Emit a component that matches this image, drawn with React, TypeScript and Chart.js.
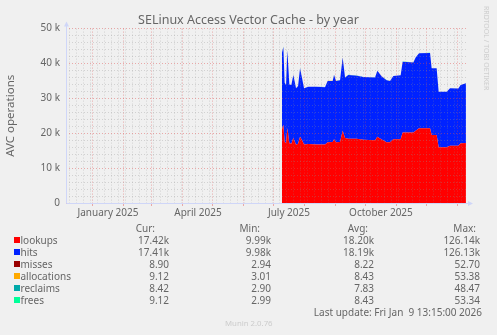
import React, { useEffect, useRef } from "react";
import { Chart, registerables } from "chart.js";

Chart.register(...registerables);

const FONT = "'Noto Sans', 'Open Sans', sans-serif";
const TEXT = "#666666";

// x values: days since 1 January 2025
const X_MIN = -26.45; // 5 Dec 2024 13:15
const X_MAX = 373.55; // 9 Jan 2026 13:15

const dayIndex = [
  189.5, 190.9, 192.2, 193.6, 194.9, 196.9, 198.9, 200.9, 203.6, 205.6,
  207.6, 209.6, 211.6, 215.9, 224.2, 232.6, 235.2, 240.2, 241.6, 243.6,
  247.6, 250.2, 252.6, 255.9, 264.2, 270.9, 282.6, 284.9, 289.2, 294.2,
  297.6, 300.9, 308.2, 310.2, 320.9, 323.2, 326.6, 337.6, 339.2, 344.2,
  346.2, 354.2, 357.6, 365.9, 368.2, 373.5,
];

// thousands of operations
const lookupsK = [
  21.0, 22.4, 17.5, 17.2, 21.4, 17.1, 17.0, 18.6, 16.7, 17.0,
  19.0, 18.0, 16.8, 16.9, 16.8, 16.8, 17.4, 17.5, 18.3, 17.4,
  17.5, 20.7, 18.6, 18.4, 18.4, 18.1, 18.0, 19.0, 18.2, 17.4,
  17.4, 18.3, 18.3, 20.2, 20.2, 20.7, 21.4, 21.4, 19.5, 19.5,
  16.0, 16.0, 16.4, 16.4, 17.1, 17.2,
];
const hitsK = [
  22.0, 22.3, 17.0, 16.6, 22.4, 16.9, 16.8, 18.1, 16.2, 16.5,
  19.6, 17.8, 16.1, 16.4, 16.5, 16.4, 17.6, 17.5, 18.4, 17.6,
  17.7, 21.0, 17.4, 18.3, 18.1, 18.0, 18.0, 18.9, 18.1, 17.8,
  17.6, 18.1, 18.3, 20.3, 20.1, 21.0, 21.5, 21.6, 19.1, 19.1,
  15.9, 15.9, 16.5, 16.4, 16.7, 17.1,
];
const misses = [
  14, 52, 9, 8, 40, 9, 8, 18, 7, 8, 22, 12, 7, 7, 7, 7, 8, 8, 12, 8,
  8, 30, 10, 9, 9, 8, 8, 12, 8, 7, 7, 8, 8, 10, 9, 11, 12, 12, 9, 9,
  6, 6, 6, 6, 7, 9,
];
const allocations = [
  15, 53, 9, 9, 41, 9, 8, 19, 8, 8, 23, 12, 8, 8, 7, 8, 8, 9, 13, 8,
  9, 31, 10, 9, 9, 9, 8, 12, 9, 8, 8, 8, 9, 10, 10, 11, 12, 12, 9, 9,
  6, 6, 7, 7, 8, 9,
];
const reclaims = [
  13, 48, 8, 8, 37, 8, 8, 17, 7, 7, 21, 11, 7, 7, 7, 7, 7, 8, 11, 8,
  8, 28, 9, 9, 8, 8, 8, 11, 8, 7, 7, 8, 8, 9, 9, 10, 11, 11, 8, 8,
  6, 6, 6, 6, 7, 8,
];
const frees = [
  15, 53, 9, 9, 41, 9, 8, 19, 8, 8, 23, 12, 8, 8, 7, 8, 8, 9, 13, 8,
  9, 31, 10, 9, 9, 9, 8, 12, 9, 8, 8, 8, 9, 10, 10, 11, 12, 12, 9, 9,
  6, 6, 7, 7, 8, 9,
];

// axis ticks
const monthStarts = [-31, 0, 31, 59, 90, 120, 151, 181, 212, 243, 273, 304, 334, 365];
const firstMonday = -23;
const labelDays = [15.5, 105.5, 196.5, 288.5];
const labelTexts = ["January 2025", "April 2025", "July 2025", "October 2025"];
const yMajorStep = 10000;
const yMinorStep = 2000;

// legend
const seriesNames = ["lookups", "hits", "misses", "allocations", "reclaims", "frees"];
const seriesColors = ["#FF0000", "#0022FF", "#990000", "#FFAA00", "#00AAAA", "#00FF99"];
const curValues = ["17.42k", "17.41k", "8.90", "9.12", "8.42", "9.12"];
const minValues = ["9.99k", "9.98k", "2.94", "3.01", "2.90", "2.99"];
const avgValues = ["18.20k", "18.19k", "8.22", "8.43", "7.83", "8.43"];
const maxValues = ["126.14k", "126.13k", "52.70", "53.38", "48.47", "53.34"];

const MINOR = "rgba(143,143,143,0.32)";
const MAJOR = "rgba(222,79,79,0.45)";
const AXIS = "#CFD6F8";

function buildXTicks() {
  const set = new Map<number, string>();
  for (let d = firstMonday; d <= X_MAX; d += 7) if (d >= X_MIN) set.set(d, "minor");
  monthStarts.forEach((d) => {
    if (d >= X_MIN && d <= X_MAX) set.set(d, "major");
  });
  labelDays.forEach((d) => set.set(d, "label"));
  return Array.from(set.entries())
    .sort((a, b) => a[0] - b[0])
    .map(([value, kind]) => ({ value, kind }));
}

const axesPlugin = {
  id: "rrdAxes",
  afterDraw(chart: any) {
    const { ctx, chartArea: a } = chart;
    const lx = Math.round(a.left) + 0.5;
    const by = Math.round(a.bottom) + 0.5;
    ctx.save();
    ctx.setLineDash([]);
    ctx.strokeStyle = AXIS;
    ctx.fillStyle = AXIS;
    ctx.lineWidth = 1;
    ctx.beginPath();
    ctx.moveTo(lx, by);
    ctx.lineTo(lx, a.top - 3);
    ctx.moveTo(lx, by);
    ctx.lineTo(a.right + 3, by);
    ctx.stroke();
    ctx.beginPath();
    ctx.moveTo(lx - 2.5, a.top - 2);
    ctx.lineTo(lx + 2.5, a.top - 2);
    ctx.lineTo(lx, a.top - 7);
    ctx.closePath();
    ctx.fill();
    ctx.beginPath();
    ctx.moveTo(a.right + 2, by - 2.5);
    ctx.lineTo(a.right + 2, by + 2.5);
    ctx.lineTo(a.right + 7, by);
    ctx.closePath();
    ctx.fill();
    ctx.restore();
  },
};

function Txt(props: { right?: number; left?: number; cy: number; size?: number; color?: string; children: any }) {
  const { right, left, cy, size = 10, color = TEXT, children } = props;
  const style: any = {
    position: "absolute",
    top: cy - 6,
    lineHeight: "12px",
    fontSize: size,
    fontFamily: FONT,
    color,
    whiteSpace: "pre",
  };
  if (right !== undefined) style.right = 497 - right;
  if (left !== undefined) style.left = left;
  return <div style={style}>{children}</div>;
}

export default function App() {
  const canvasRef = useRef<HTMLCanvasElement>(null);

  useEffect(() => {
    const canvas = canvasRef.current;
    if (!canvas) return;
    const xTicks = buildXTicks();
    const kindOf = (v: number) => {
      const t = xTicks.find((k) => k.value === v);
      return t ? t.kind : "minor";
    };
    const series = [
      lookupsK.map((v) => v * 1000),
      hitsK.map((v) => v * 1000),
      misses,
      allocations,
      reclaims,
      frees,
    ];
    const datasets = series.map((vals, s) => ({
      label: seriesNames[s],
      data: dayIndex.map((d, i) => ({ x: d, y: vals[i] })),
      backgroundColor: seriesColors[s],
      borderColor: "rgba(0,0,0,0)",
      borderWidth: 0,
      pointRadius: 0,
      tension: 0,
      fill: s === 0 ? "origin" : "-1",
    }));

    const chart = new Chart(canvas, {
      type: "line",
      data: { datasets },
      plugins: [axesPlugin],
      options: {
        responsive: false,
        animation: false,
        devicePixelRatio: 1,
        layout: { padding: 0 },
        plugins: {
          legend: { display: false },
          tooltip: { enabled: false },
          title: {
            display: true,
            text: "SELinux Access Vector Cache - by year",
            color: TEXT,
            font: { family: FONT, size: 12.5, weight: "normal" },
            padding: { top: 13, bottom: 0.6 },
          },
        },
        scales: {
          x: {
            type: "linear",
            position: "bottom",
            min: X_MIN,
            max: X_MAX,
            afterBuildTicks: (s: any) => {
              s.ticks = xTicks.map((t) => ({ value: t.value }));
            },
            afterFit: (s: any) => {
              s.height = 132;
            },
            ticks: {
              autoSkip: false,
              maxRotation: 0,
              minRotation: 0,
              color: TEXT,
              font: { family: FONT, size: 10 },
              padding: 1,
              callback: (v: any) => {
                const idx = labelDays.indexOf(Number(v));
                return idx >= 0 ? labelTexts[idx] : "";
              },
            },
            grid: {
              z: 1,
              drawTicks: true,
              tickLength: 3,
              lineWidth: 1,
              color: (c: any) => {
                const k = kindOf(c.tick.value);
                return k === "major" ? MAJOR : k === "minor" ? MINOR : "rgba(0,0,0,0)";
              },
              tickColor: (c: any) => (kindOf(c.tick.value) === "major" ? MAJOR : "rgba(0,0,0,0)"),
            },
            border: { display: false, dash: [1, 2] },
          },
          y: {
            type: "linear",
            position: "left",
            stacked: true,
            min: 0,
            max: 50000,
            afterBuildTicks: (s: any) => {
              const t: any[] = [];
              for (let v = 0; v <= 50000; v += yMinorStep) t.push({ value: v });
              s.ticks = t;
            },
            afterFit: (s: any) => {
              s.width = 66;
            },
            ticks: {
              autoSkip: false,
              color: TEXT,
              font: { family: FONT, size: 10 },
              padding: 6,
              callback: (v: any) => {
                const n = Number(v);
                if (n % yMajorStep !== 0) return "";
                return n === 0 ? "0" : `${n / 1000} k`;
              },
            },
            grid: {
              z: 1,
              drawTicks: false,
              lineWidth: 1,
              color: (c: any) => (c.tick.value % yMajorStep === 0 ? MAJOR : MINOR),
            },
            border: { display: false, dash: [1, 2] },
            title: {
              display: true,
              text: "AVC operations",
              color: TEXT,
              font: { family: FONT, size: 11.5 },
              padding: { top: 4, bottom: 0 },
            },
          },
          yR: {
            type: "linear",
            position: "right",
            display: true,
            afterFit: (s: any) => {
              s.width = 31;
            },
            ticks: { display: false },
            grid: { display: false, drawTicks: false },
            border: { display: false },
          },
        },
      } as any,
    });
    return () => chart.destroy();
  }, []);

  const headerY = 227.5;
  const rowY = (i: number) => 239.5 + 12 * i;

  return (
    <div
      style={{
        position: "fixed",
        left: 0,
        top: 0,
        width: 497,
        height: 335,
        background: "#F0F0F0",
        overflow: "hidden",
      }}
    >
      <canvas ref={canvasRef} width={497} height={335} style={{ position: "absolute", left: 0, top: 0 }} />
      <div
        style={{
          position: "absolute",
          left: 491,
          top: 6,
          transform: "rotate(90deg)",
          transformOrigin: "0 0",
          fontFamily: FONT,
          fontSize: 7,
          lineHeight: "9px",
          color: "#CCCCCC",
          whiteSpace: "pre",
        }}
      >
        RRDTOOL / TOBI OETIKER
      </div>
      <Txt right={155} cy={headerY}>Cur:</Txt>
      <Txt right={260} cy={headerY}>Min:</Txt>
      <Txt right={368} cy={headerY}>Avg:</Txt>
      <Txt right={476} cy={headerY}>Max:</Txt>
      {seriesNames.map((name, i) => (
        <React.Fragment key={name}>
          <div
            style={{
              position: "absolute",
              left: 14,
              top: rowY(i) - 3,
              width: 6,
              height: 6,
              background: seriesColors[i],
            }}
          />
          <Txt left={20.5} cy={rowY(i)}>{name}</Txt>
          <Txt right={169} cy={rowY(i)}>{curValues[i]}</Txt>
          <Txt right={271} cy={rowY(i)}>{minValues[i]}</Txt>
          <Txt right={374} cy={rowY(i)}>{avgValues[i]}</Txt>
          <Txt right={480} cy={rowY(i)}>{maxValues[i]}</Txt>
        </React.Fragment>
      ))}
      <Txt right={482} cy={311.5}>Last update: Fri Jan  9 13:15:00 2026</Txt>
      <Txt left={225} cy={322.5} size={7.8} color="#CCCCCC">Munin 2.0.76</Txt>
    </div>
  );
}
